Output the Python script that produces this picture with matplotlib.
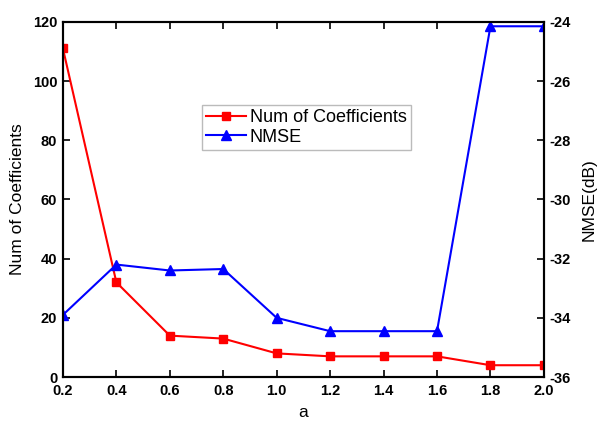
import matplotlib
matplotlib.use("Agg")
import matplotlib.pyplot as plt

plt.rcParams['font.family'] = ['Liberation Sans', 'DejaVu Sans']

a_values = [0.2, 0.4, 0.6, 0.8, 1.0, 1.2, 1.4, 1.6, 1.8, 2.0]
num_coefficients = [111, 32, 14, 13, 8, 7, 7, 7, 4, 4]
nmse_db = [-33.9, -32.2, -32.4, -32.35, -34.0, -34.45, -34.45, -34.45, -24.15, -24.15]
x_ticks = [0.2, 0.4, 0.6, 0.8, 1.0, 1.2, 1.4, 1.6, 1.8, 2.0]
left_ticks = [0, 20, 40, 60, 80, 100, 120]
right_ticks = [-36, -34, -32, -30, -28, -26, -24]

fig = plt.figure(figsize=(6.05, 4.28), dpi=100)
ax = fig.add_axes([0.104, 0.119, 0.795, 0.830])
ax2 = ax.twinx()

l1, = ax.plot(a_values, num_coefficients, color='#ff0000', marker='s', markersize=6,
              linewidth=1.5, label='Num of Coefficients')
l2, = ax2.plot(a_values, nmse_db, color='#0000ff', marker='^', markersize=7,
               linewidth=1.5, label='NMSE')

tfs = 10.5
ax.set_xlim(0.2, 2.0)
ax.set_ylim(0, 120)
ax2.set_ylim(-36, -24)
ax.set_xticks(x_ticks)
ax.set_xticklabels([f"{v:.1f}" for v in x_ticks], fontweight='bold', fontsize=tfs)
ax.set_yticks(left_ticks)
ax.set_yticklabels([str(v) for v in left_ticks], fontweight='bold', fontsize=tfs)
ax2.set_yticks(right_ticks)
ax2.set_yticklabels([str(v) for v in right_ticks], fontweight='bold', fontsize=tfs)

ax.tick_params(axis='x', direction='in', top=True, length=5, width=1.2, pad=5)
ax.tick_params(axis='y', direction='in', length=5, width=1.2, pad=4)
ax2.tick_params(axis='y', direction='in', length=5, width=1.2, pad=4)

for s in ax.spines.values():
    s.set_linewidth(1.5)
for s in ax2.spines.values():
    s.set_linewidth(1.5)

ax.set_xlabel('a', fontsize=12.5, labelpad=5)
ax.set_ylabel('Num of Coefficients', fontsize=12.5, labelpad=6)
ax2.set_ylabel('NMSE(dB)', fontsize=12.5, labelpad=8)

leg = ax.legend(handles=[l1, l2], loc='upper left', bbox_to_anchor=(0.289, 0.766),
                fontsize=13, frameon=True, fancybox=False, handlelength=2.2,
                borderpad=0.25, labelspacing=0.12, handletextpad=0.2, borderaxespad=0)
leg.get_frame().set_edgecolor('#aaaaaa')
leg.get_frame().set_linewidth(1.0)

fig.savefig('out.png', dpi=100)
